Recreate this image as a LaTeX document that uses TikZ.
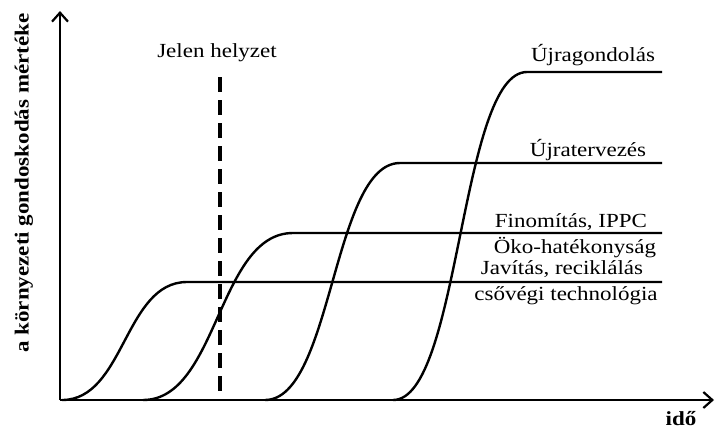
\documentclass[tikz,border=0pt]{standalone}
\usepackage{fontspec}
\setmainfont[FakeStretch=1.15]{Liberation Serif}
\usetikzlibrary{arrows.meta}
\begin{document}
\begin{tikzpicture}[x=1bp,y=-1bp,
  axis/.style={line width=2.2bp, -{Straight Barb[length=9bp,width=16bp,line width=2.2bp]}},
  curve/.style={line width=2.4bp},
  now/.style={line width=4bp, dash pattern=on 15bp off 8bp},
  lbl/.style={font=\fontsize{20bp}{24bp}\selectfont, anchor=base, inner sep=0pt},
  axlbl/.style={font=\fontsize{20bp}{24bp}\selectfont\bfseries, inner sep=0pt}]
\useasboundingbox (0,0) rectangle (715,430);
% axes
\coordinate (O) at (60,400);
\coordinate (ytop) at (60,11);
\coordinate (xend) at (714,400);
\draw[axis] (O) -- (ytop);
\draw[axis] (O) -- (xend);
% curves
\coordinate (a0) at (62,400);  \coordinate (a1) at (187,282); \coordinate (a2) at (662,282);
\coordinate (b0) at (143,400); \coordinate (b1) at (293,233); \coordinate (b2) at (662,233);
\coordinate (c0) at (265,400); \coordinate (c1) at (400,163); \coordinate (c2) at (662,163);
\coordinate (d0) at (393,400); \coordinate (d1) at (527,72);  \coordinate (d2) at (662,72);
\draw[curve] (a0) .. controls (124.5,400) and (124.5,282) .. (a1) -- (a2);
\draw[curve] (b0) .. controls (218,400) and (218,233) .. (b1) -- (b2);
\draw[curve] (c0) .. controls (332.5,400) and (332.5,163) .. (c1) -- (c2);
\draw[curve] (d0) .. controls (460,400) and (460,72) .. (d1) -- (d2);
% present
\coordinate (n0) at (220,77);
\coordinate (n1) at (220,400);
\draw[now] (n0) -- (n1);
\node[lbl] (jelen) at (217,57) {Jelen helyzet};
% labels
\node[lbl] (l4) at (593,61) {Újragondolás};
\node[lbl] (l3) at (588,156) {Újratervezés};
\node[lbl] (l2a) at (571,227) {Finomítás, IPPC};
\node[lbl] (l2b) at (575,253) {Öko-hatékonyság};
\node[lbl] (l1a) at (562,274) {Javítás, reciklálás};
\node[lbl] (l1b) at (566,300) {csővégi technológia};
\node[axlbl, rotate=90] (ylbl) at (24,183) {a környezeti gondoskodás mértéke};
\node[axlbl, anchor=base] (xlbl) at (681,425) {idő};
\end{tikzpicture}
\end{document}
